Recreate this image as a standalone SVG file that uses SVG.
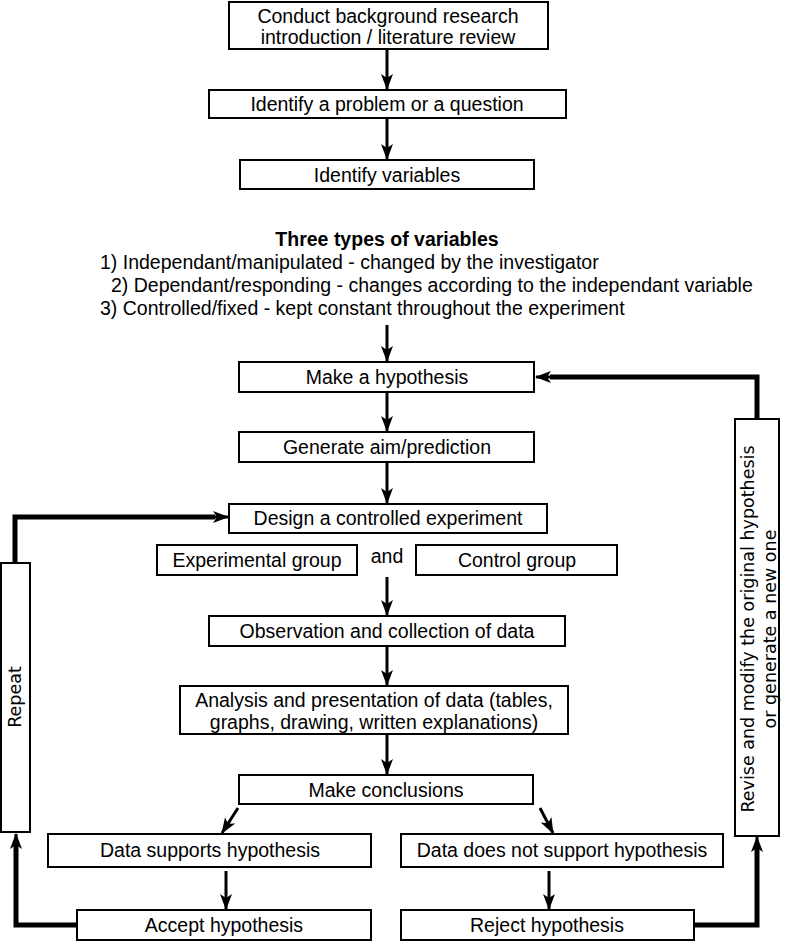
<svg xmlns="http://www.w3.org/2000/svg" width="788" height="942" viewBox="0 0 788 942">
<style>
.box{fill:#fff;stroke:#000;stroke-width:2}
.t{font-family:"Liberation Sans",Arial,sans-serif;font-size:19.5px;fill:#000;text-anchor:middle}
.r{font-family:"DejaVu Sans",sans-serif;font-size:17.5px;fill:#000;text-anchor:middle}
.c{fill:none;stroke:#000;stroke-width:3}
.k{fill:none;stroke:#000;stroke-width:5}
</style>
<defs>
<marker id="ah" markerUnits="userSpaceOnUse" viewBox="0 0 16 12" refX="15" refY="6" markerWidth="16" markerHeight="12" orient="auto">
<path d="M0,0 L16,6 L0,12 L4,6 Z" fill="#000"/>
</marker>
</defs>
<rect width="788" height="942" fill="#fff"/>
<g id="connectors">
<line class="c" x1="387" y1="50" x2="387" y2="89" marker-end="url(#ah)"/>
<line class="c" x1="387" y1="119" x2="387" y2="159" marker-end="url(#ah)"/>
<line class="c" x1="387" y1="325" x2="387" y2="361" marker-end="url(#ah)"/>
<line class="c" x1="387" y1="393" x2="387" y2="431" marker-end="url(#ah)"/>
<line class="c" x1="387" y1="463" x2="387" y2="503" marker-end="url(#ah)"/>
<line class="c" x1="387" y1="577" x2="387" y2="615" marker-end="url(#ah)"/>
<line class="c" x1="387" y1="647" x2="387" y2="685" marker-end="url(#ah)"/>
<line class="c" x1="387" y1="735" x2="387" y2="774" marker-end="url(#ah)"/>
<line class="c" x1="238" y1="808" x2="222" y2="833" marker-end="url(#ah)"/>
<line class="c" x1="540" y1="808" x2="553" y2="833" marker-end="url(#ah)"/>
<line class="c" x1="226" y1="871" x2="226" y2="909" marker-end="url(#ah)"/>
<line class="c" x1="549" y1="871" x2="549" y2="909" marker-end="url(#ah)"/>
<polyline class="k" points="77,925 16,925 16,840"/>
<line class="c" x1="16" y1="845" x2="16" y2="834" marker-end="url(#ah)"/>
<polyline class="k" points="15,563 15,517 215,517"/>
<line class="c" x1="212" y1="517" x2="228" y2="517" marker-end="url(#ah)"/>
<polyline class="k" points="694,925 757,925 757,845"/>
<line class="c" x1="757" y1="850" x2="757" y2="837" marker-end="url(#ah)"/>
<polyline class="k" points="757,419 757,377 550,377"/>
<line class="c" x1="553" y1="377" x2="536" y2="377" marker-end="url(#ah)"/>
</g>
<g id="n1"><rect class="box" x="229" y="2" width="319" height="47"/>
<text class="t" x="388" y="23">Conduct background research</text>
<text class="t" x="388" y="44">introduction / literature review</text></g>
<g id="n2"><rect class="box" x="209" y="90" width="357" height="28"/>
<text class="t" x="387" y="111">Identify a problem or a question</text></g>
<g id="n3"><rect class="box" x="240" y="160" width="294" height="29"/>
<text class="t" x="387" y="182">Identify variables</text></g>
<g id="n4">
<text class="t" x="387" y="246" font-weight="bold">Three types of variables</text>
<text class="t" x="100" y="269" style="text-anchor:start">1) Independant/manipulated - changed by the investigator</text>
<text class="t" x="111" y="292" style="text-anchor:start">2) Dependant/responding - changes according to the independant variable</text>
<text class="t" x="100" y="315" style="text-anchor:start">3) Controlled/fixed - kept constant throughout the experiment</text>
</g>
<g id="n5"><rect class="box" x="239" y="362" width="295" height="30"/>
<text class="t" x="387" y="384">Make a hypothesis</text></g>
<g id="n6"><rect class="box" x="239" y="432" width="295" height="30"/>
<text class="t" x="387" y="454">Generate aim/prediction</text></g>
<g id="n7"><rect class="box" x="229" y="504" width="318" height="29"/>
<text class="t" x="388" y="525">Design a controlled experiment</text></g>
<g id="n8"><rect class="box" x="157" y="545" width="200" height="30"/>
<text class="t" x="257" y="567">Experimental group</text></g>
<g id="n9"><text class="t" x="387" y="563">and</text></g>
<g id="n10"><rect class="box" x="416" y="545" width="201" height="30"/>
<text class="t" x="517" y="567">Control group</text></g>
<g id="n11"><rect class="box" x="209" y="616" width="356" height="30"/>
<text class="t" x="387" y="638">Observation and collection of data</text></g>
<g id="n12"><rect class="box" x="180" y="686" width="388" height="48"/>
<text class="t" x="374" y="707">Analysis and presentation of data (tables,</text>
<text class="t" x="374" y="729">graphs, drawing, written explanations)</text></g>
<g id="n13"><rect class="box" x="239" y="775" width="294" height="29"/>
<text class="t" x="386" y="797">Make conclusions</text></g>
<g id="n14"><rect class="box" x="48" y="834" width="323" height="33"/>
<text class="t" x="210" y="857">Data supports hypothesis</text></g>
<g id="n15"><rect class="box" x="401" y="834" width="322" height="33"/>
<text class="t" x="562" y="857">Data does not support hypothesis</text></g>
<g id="n16"><rect class="box" x="77" y="910" width="294" height="30"/>
<text class="t" x="224" y="932">Accept hypothesis</text></g>
<g id="n17"><rect class="box" x="401" y="910" width="293" height="30"/>
<text class="t" x="547" y="932">Reject hypothesis</text></g>
<g id="n18"><rect class="box" x="1" y="563" width="29" height="269"/>
<text class="r" transform="translate(21,697) rotate(-90)">Repeat</text></g>
<g id="n19"><rect class="box" x="735" y="419" width="44" height="417"/>
<text class="r" transform="translate(754,629) rotate(-90)">Revise and modify the original hypothesis</text>
<text class="r" transform="translate(776,629) rotate(-90)">or generate a new one</text></g>
</svg>
